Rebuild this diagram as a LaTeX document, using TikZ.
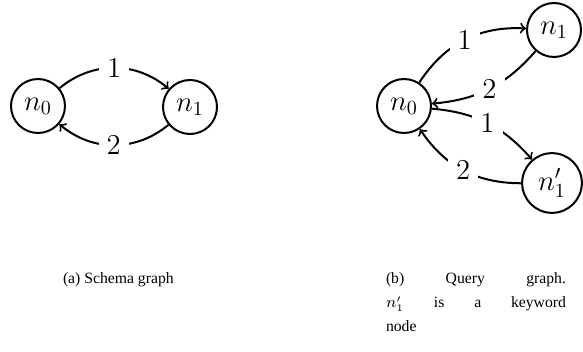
\documentclass[tikz,border=0pt]{standalone}
\usepackage{amsmath}
\usepackage{fontspec}
\setmainfont{Liberation Serif}
\usepackage{tikz}

\begin{document}
\begin{tikzpicture}[x=0.5pt, y=-0.5pt, line width=1pt,
    vertex/.style={circle, draw, minimum size=27pt, inner sep=3.5pt, font=\fontsize{14}{17}\selectfont},
    lbl/.style={fill=white, inner sep=4pt, font=\fontsize{14}{17}\selectfont},
    caption/.style={inner sep=0pt, anchor=north west, font=\fontsize{7.85}{12}\selectfont}]
    \useasboundingbox (0,0) rectangle (583,352);
                    % Nodes
                    \node[vertex] (a0) at (38,106) {$n_0$};
                    \node[vertex] (a1) at (190,107) {$n_1$};
                    \node[vertex] (b0) at (404,106) {$n_0$};
                    \node[vertex] (b1) at (554,30) {$n_1$};
                    \node[vertex] (b1p) at (552,183) {$n_1'$};
                    % Edges
                    \draw[->] (a0) to[bend left=40] node[lbl] {$1$} (a1);
                    \draw[->] (a1) to[bend left=40] node[lbl] {$2$} (a0);
                    \draw[->] (b0) to[bend left=30] node[lbl] {$1$} (b1);
                    \draw[->] (b1) to[bend left=22] node[lbl] {$2$} (b0);
                    \draw[->] (b0) to[bend left=22] node[lbl] {$1$} (b1p);
                    \draw[->] (b1p) to[bend left=28] node[lbl] {$2$} (b0);
                    % Captions
                    \node[caption] (capa) at (62,272) {(a) Schema graph};
                    \node[caption, text width=90pt, align=left] (capb) at (385,272)
                        {\makebox[90pt][s]{(b) \hfill Query \hfill graph.}\\
                         \makebox[90pt][s]{$n_1'$ \hfill is \hfill a \hfill keyword}\\
                         node};
                \end{tikzpicture}
\end{document}
